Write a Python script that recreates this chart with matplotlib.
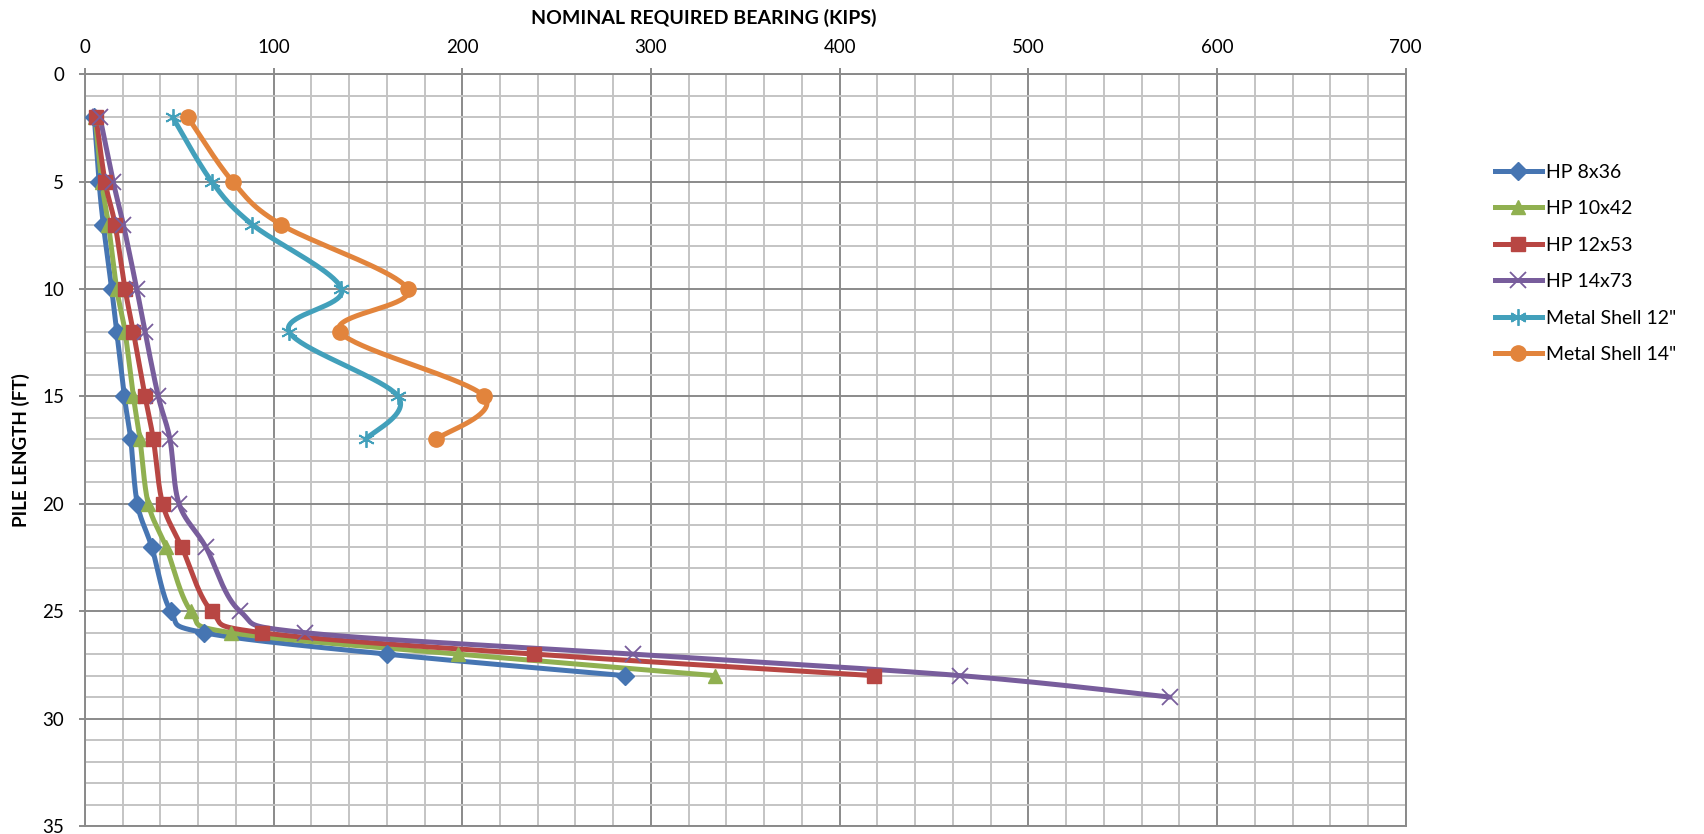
import numpy as np
import matplotlib
matplotlib.use("Agg")
import matplotlib.pyplot as plt
from matplotlib.ticker import MultipleLocator

plt.rcParams['font.family'] = ['Lato', 'DejaVu Sans']

# Pile length (ft) and nominal required bearing (kips) for each section
length_hp = [2, 5, 7, 10, 12, 15, 17, 20, 22, 25, 26, 27, 28]
length_hp14 = [2, 5, 7, 10, 12, 15, 17, 20, 22, 25, 26, 27, 28, 29]
length_shell = [2, 5, 7, 10, 12, 15, 17]

hp8x36 = [5, 7.5, 9.8, 14.2, 16.9, 20.9, 24.3, 27.8, 35.4, 45.5, 63, 160, 286]
hp10x42 = [5.5, 8.9, 12.5, 16.9, 21.3, 25.7, 29.2, 33.6, 43, 56.2, 77.3, 198, 334]
hp12x53 = [5.9, 10.7, 16, 21.3, 25.7, 31.9, 36.3, 41.2, 51.3, 67.2, 93.7, 238, 418]
hp14x73 = [8, 15, 20.4, 27.5, 31.9, 38.9, 45.1, 49.9, 64, 82.2, 116.6, 290.5, 464, 575]
shell12 = [46.5, 67.2, 88.7, 136, 108.3, 166, 148.8]
shell14 = [54.5, 78.3, 103.9, 171, 135.2, 211.6, 186]

series = [
    ("HP 8x36", hp8x36, length_hp, "#4675B2", "D", 9, 1.0),
    ("HP 10x42", hp10x42, length_hp, "#90B050", "^", 10, 1.0),
    ("HP 12x53", hp12x53, length_hp, "#B84643", "s", 10, 1.0),
    ("HP 14x73", hp14x73, length_hp14, "#785D9C", "x", 11, 1.3),
    ("Metal Shell 12\"", shell12, length_shell, "#42A0BB", (6, 2, 0), 12, 1.3),
    ("Metal Shell 14\"", shell14, length_shell, "#E2843C", "o", 11, 1.0),
]

XMAX, YMAX = 700, 35
fig = plt.figure(figsize=(17.04, 8.34), dpi=100)
ax = fig.add_axes([0.0498, 0.0096, 0.7752, 0.9015])
# pixels per data unit, used so the smoothing works in screen proportions
sx = 0.7752 * 1704 / XMAX
sy = 0.9015 * 834 / YMAX


def smooth(xs, ys, n=40):
    """Catmull-Rom style Bezier smoothing through the given points."""
    p = np.column_stack([np.asarray(xs, float) * sx, np.asarray(ys, float) * sy])
    ext = np.vstack([p[0], p, p[-1]])
    out = []
    t = np.linspace(0, 1, n)[:, None]
    for i in range(len(p) - 1):
        p0, p1, p2, p3 = ext[i], ext[i + 1], ext[i + 2], ext[i + 3]
        c1 = p1 + (p2 - p0) / 6.0
        c2 = p2 - (p3 - p1) / 6.0
        seg = ((1 - t) ** 3) * p1 + 3 * ((1 - t) ** 2) * t * c1 + 3 * (1 - t) * t ** 2 * c2 + t ** 3 * p2
        out.append(seg if i == 0 else seg[1:])
    c = np.vstack(out)
    return c[:, 0] / sx, c[:, 1] / sy


for name, vals, lens, color, marker, ms, mew in series:
    cx, cy = smooth(vals, lens)
    ax.plot(cx, cy, color=color, lw=3.6, solid_capstyle='round', zorder=3)
    ax.plot(vals, lens, linestyle='none', marker=marker, ms=ms, color=color,
            mec=color, mew=mew, zorder=4)
    ax.plot([], [], color=color, lw=3.6, marker=marker, ms=ms, mec=color,
            mew=mew, label=name)

ax.set_xlim(0, XMAX)
ax.set_ylim(YMAX, 0)
ax.xaxis.set_major_locator(MultipleLocator(100))
ax.xaxis.set_minor_locator(MultipleLocator(20))
ax.yaxis.set_major_locator(MultipleLocator(5))
ax.yaxis.set_minor_locator(MultipleLocator(1))
ax.xaxis.tick_top()
ax.grid(which='major', color='#8A8A8A', lw=1.4, zorder=1)
ax.grid(which='minor', color='#C4C4C4', lw=1.4, zorder=1)
ax.set_axisbelow(True)
for s in ax.spines.values():
    s.set_color('#8A8A8A')
    s.set_linewidth(1.4)
ax.tick_params(which='major', length=4, width=1.4, color='#8A8A8A',
               labelsize=13.5, top=True, bottom=False)
ax.tick_params(axis='x', which='major', pad=9)
ax.tick_params(axis='y', which='major', pad=11)
ax.tick_params(which='minor', length=0, top=False, bottom=False)

fig.text(0.413, 0.979, "NOMINAL REQUIRED BEARING (KIPS)", ha='center', va='center',
         fontsize=14, fontweight='bold')
fig.text(0.0123, 0.46, "PILE LENGTH (FT)", ha='center', va='center', rotation=90,
         fontsize=13.6, fontweight='bold')

leg = fig.legend(loc='upper left', bbox_to_anchor=(0.8727, 0.813), frameon=False,
                 fontsize=14, handlelength=2.42, handletextpad=0.2,
                 labelspacing=1.0, borderaxespad=0)

fig.savefig("out.png", dpi=100)
